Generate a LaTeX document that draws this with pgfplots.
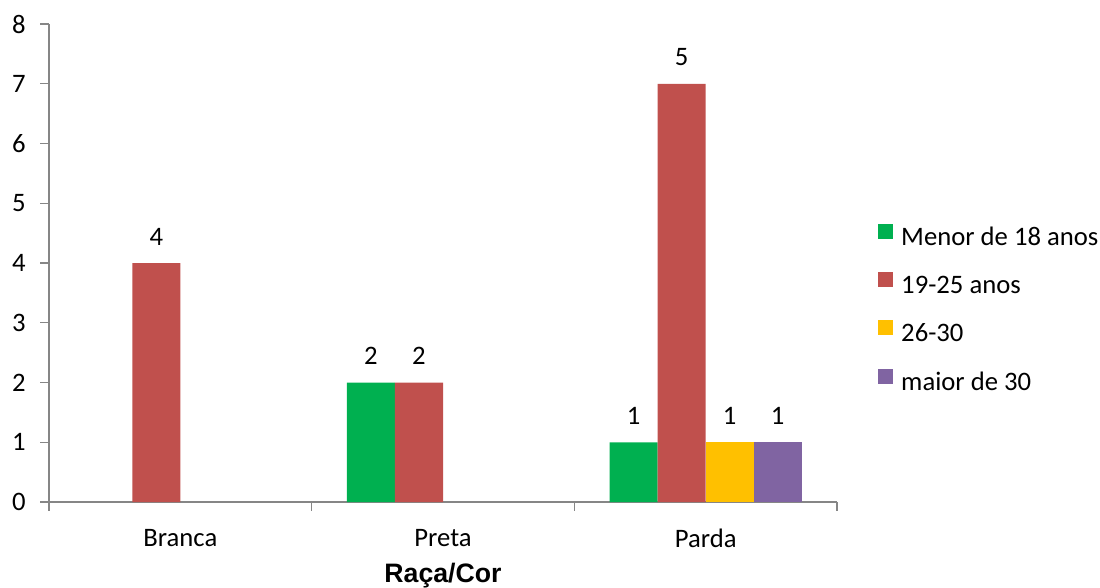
\documentclass[border=0pt]{standalone}
\usepackage{pgfplots}
\pgfplotsset{compat=1.18}
\usepackage{fontspec}
\setmainfont{Carlito}
\newfontfamily\arialfont{Liberation Sans}
\definecolor{cgreen}{HTML}{00B050}
\definecolor{cred}{HTML}{C0504D}
\definecolor{cyellow}{HTML}{FFC000}
\definecolor{cpurple}{HTML}{8064A2}
\definecolor{axgray}{HTML}{868686}
\begin{document}
\begin{tikzpicture}[font=\fontsize{20}{24}\selectfont]
\useasboundingbox (-36.75pt,-63.75pt) rectangle (788.25pt,376.5pt);
\begin{axis}[
  at={(0,0)}, anchor=south west,
  scale only axis, width=591pt, height=358.5pt,
  xmin=-0.5, xmax=2.5, ymin=0, ymax=8,
  ybar=0pt, bar width=36pt,
  axis x line*=bottom, axis y line*=left,
  axis line style={-, draw=axgray, line width=0.8pt},
  tick style={draw=axgray, line width=0.8pt},
  tick align=outside, major tick length=6.5pt,
  xtick={-0.5,0.5,1.5,2.5},
  x tick label as interval,
  xticklabels={Branca,Preta,Parda},
  ytick={0,1,...,8},
  /pgf/number format/assume math mode=true,
  every tick label/.append style={font=\fontsize{20}{24}\selectfont, text=black},
  xticklabel style={yshift=-10.5pt},
  yticklabel style={xshift=-7.5pt},
  xlabel={\arialfont\bfseries Raça/Cor},
  xlabel style={at={(axis description cs:0.5,0)}, anchor=base, yshift=-60pt, inner sep=0pt},
  nodes near coords,
  point meta=explicit symbolic,
  every node near coord/.append style={anchor=base, yshift=13.5pt, inner sep=0pt, font=\fontsize{20}{24}\selectfont, text=black},
  legend style={at={(axis description cs:1.052,0.4027)}, anchor=west, draw=none, fill=none,
    font=\fontsize{20}{24}\selectfont, row sep=16pt, inner sep=0pt,
    nodes={inner sep=0pt, text height=14pt, text depth=4pt}, column sep=6pt},
  legend cell align=left,
  legend image code/.code={\fill[#1] (0pt,0pt) rectangle (11.25pt,11.25pt);},
]
\addplot[fill=cgreen, draw=none] coordinates {(1,2) [2] (2,1) [1]};
\addlegendentry{Menor de 18 anos}
\addplot[fill=cred, draw=none] coordinates {(0,4) [4] (1,2) [2] (2,7) [5]};
\addlegendentry{19-25 anos}
\addplot[fill=cyellow, draw=none] coordinates {(2,1) [1]};
\addlegendentry{26-30}
\addplot[fill=cpurple, draw=none] coordinates {(2,1) [1]};
\addlegendentry{maior de 30}
\end{axis}
\end{tikzpicture}
\end{document}
